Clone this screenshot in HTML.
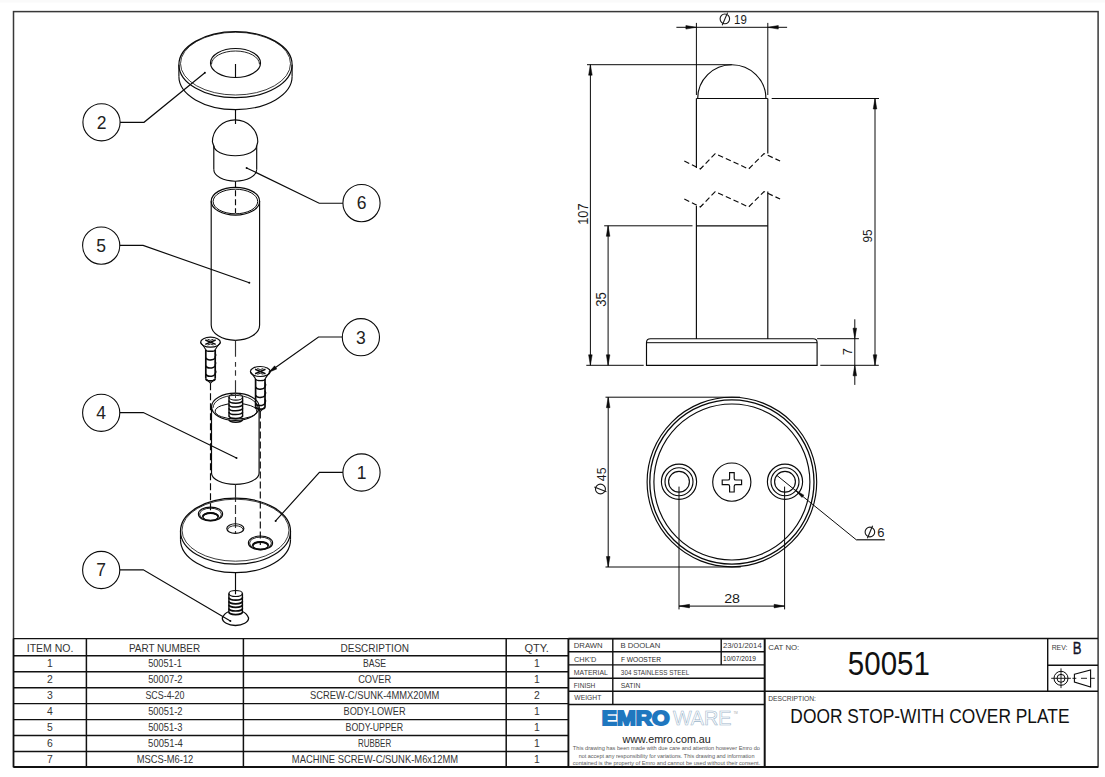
<!DOCTYPE html>
<html><head><meta charset="utf-8"><title>Door Stop Drawing</title>
<style>
html,body{margin:0;padding:0;background:#fff;width:1105px;height:777px;overflow:hidden}
svg{display:block}
text{font-family:"Liberation Sans",sans-serif}
</style></head><body>
<svg width="1105" height="777" viewBox="0 0 1105 777">
<rect width="1105" height="777" fill="#fff"/>
<rect x="0" y="0" width="1105" height="2.6" fill="#fafafa"/>
<rect x="13.5" y="11.6" width="1084.6" height="755.3" fill="none" stroke="#383838" stroke-width="1.5"/>
<ellipse cx="235.5" cy="64.7" rx="56.6" ry="33.0" stroke="#0a0a0a" stroke-width="1.2" fill="none"/>
<ellipse cx="235.5" cy="63.6" rx="55.0" ry="31.4" stroke="#0a0a0a" stroke-width="0.8" fill="none"/>
<line x1="178.9" y1="64.7" x2="178.9" y2="76.6" stroke="#0a0a0a" stroke-width="1.15" />
<line x1="292.1" y1="64.7" x2="292.1" y2="76.6" stroke="#0a0a0a" stroke-width="1.15" />
<path d="M178.9,76.6 A56.6,33.0 0 0 0 292.1,76.6" stroke="#0a0a0a" stroke-width="1.15" fill="none" />
<ellipse cx="235.5" cy="63.0" rx="25.0" ry="14.5" stroke="#0a0a0a" stroke-width="1.2" fill="none"/>
<path d="M211.5,64.3 A24.0,13.3 0 0 1 259.5,64.3" stroke="#0a0a0a" stroke-width="0.9" fill="none" />
<line x1="235.5" y1="64" x2="235.5" y2="77.5" stroke="#0a0a0a" stroke-width="1.15" />
<line x1="235.5" y1="109.6" x2="235.5" y2="124" stroke="#0a0a0a" stroke-width="1.15" />
<path d="M212.4,142 A22.7,22.2 0 0 1 257.8,142" stroke="#0a0a0a" stroke-width="1.15" fill="none" />
<line x1="212.4" y1="142" x2="213.8" y2="146" stroke="#0a0a0a" stroke-width="1.15" />
<line x1="257.8" y1="142" x2="256.7" y2="146" stroke="#0a0a0a" stroke-width="1.15" />
<path d="M213.8,145.5 A21.45,10.2 0 0 0 256.7,145.5" stroke="#0a0a0a" stroke-width="1.15" fill="none" />
<line x1="213.8" y1="146" x2="213.8" y2="169.6" stroke="#0a0a0a" stroke-width="1.15" />
<line x1="256.7" y1="146" x2="256.7" y2="169.6" stroke="#0a0a0a" stroke-width="1.15" />
<path d="M213.8,169.6 A21.45,11.6 0 0 0 256.7,169.6" stroke="#0a0a0a" stroke-width="1.15" fill="none" />
<line x1="235.5" y1="181.2" x2="235.5" y2="213" stroke="#0a0a0a" stroke-width="1.15" stroke-dasharray="6,3"/>
<ellipse cx="235.4" cy="201.2" rx="24.2" ry="13.9" stroke="#0a0a0a" stroke-width="1.2" fill="none"/>
<ellipse cx="235.4" cy="201.5" rx="22.3" ry="12.3" stroke="#0a0a0a" stroke-width="1.0" fill="none"/>
<line x1="211.2" y1="201.2" x2="211.2" y2="325" stroke="#0a0a0a" stroke-width="1.15" />
<line x1="259.6" y1="201.2" x2="259.6" y2="325" stroke="#0a0a0a" stroke-width="1.15" />
<path d="M211.20000000000002,325 A24.2,15.3 0 0 0 259.6,325" stroke="#0a0a0a" stroke-width="1.15" fill="none" />
<line x1="235.5" y1="340.3" x2="235.5" y2="394" stroke="#333" stroke-width="1.15" stroke-dasharray="16.4,5.3,4.7,3.5,5.5,4.5,14"/>
<ellipse cx="210.5" cy="342.2" rx="9.9" ry="5.0" stroke="#0a0a0a" stroke-width="1.2" fill="none"/>
<path d="M205.3,340.0 L215.7,344.4 M215.7,340.0 L205.3,344.4" stroke="#0a0a0a" stroke-width="1.5" fill="none" />
<path d="M207.5,339.2 Q210.5,341.4 213.5,339.2 M207.5,345.0 Q210.5,343.0 213.5,345.0" stroke="#0a0a0a" stroke-width="0.9" fill="none" />
<path d="M200.6,342.5 Q204.5,347.2 205.8,349.7 M220.4,342.5 Q216.5,347.2 215.2,349.7" stroke="#0a0a0a" stroke-width="1.15" fill="none" />
<line x1="205.8" y1="349.7" x2="205.8" y2="378.7" stroke="#0a0a0a" stroke-width="1.7" />
<line x1="215.2" y1="349.7" x2="215.2" y2="378.7" stroke="#0a0a0a" stroke-width="1.7" />
<path d="M205.8,349.7 A4.7,1.6 0 0 0 215.2,349.7" stroke="#0a0a0a" stroke-width="1.4" fill="none" />
<path d="M205.8,357.7 A4.7,2.8 0 0 0 215.2,356.2" stroke="#0a0a0a" stroke-width="1.5" fill="none" />
<path d="M215.2,353.2 q1.3,2 0,4" stroke="#0a0a0a" stroke-width="1.3" fill="none" />
<path d="M205.8,365.9 A4.7,2.8 0 0 0 215.2,364.4" stroke="#0a0a0a" stroke-width="1.5" fill="none" />
<path d="M215.2,361.4 q1.3,2 0,4" stroke="#0a0a0a" stroke-width="1.3" fill="none" />
<path d="M205.8,374.09999999999997 A4.7,2.8 0 0 0 215.2,372.59999999999997" stroke="#0a0a0a" stroke-width="1.5" fill="none" />
<path d="M215.2,369.59999999999997 q1.3,2 0,4" stroke="#0a0a0a" stroke-width="1.3" fill="none" />
<path d="M205.8,378.7 A4.7,2.2 0 0 0 215.2,378.7" stroke="#0a0a0a" stroke-width="1.6" fill="none" />
<path d="M206.4,379.2 L210.5,383.3 L214.6,379.2" stroke="#0a0a0a" stroke-width="1.15" fill="none" />
<line x1="210.5" y1="383.3" x2="210.5" y2="514" stroke="#0a0a0a" stroke-width="1.15" stroke-dasharray="7,3"/>
<ellipse cx="260.3" cy="371.5" rx="9.9" ry="5.0" stroke="#0a0a0a" stroke-width="1.2" fill="none"/>
<path d="M255.10000000000002,369.3 L265.5,373.7 M265.5,369.3 L255.10000000000002,373.7" stroke="#0a0a0a" stroke-width="1.5" fill="none" />
<path d="M257.3,368.5 Q260.3,370.7 263.3,368.5 M257.3,374.3 Q260.3,372.3 263.3,374.3" stroke="#0a0a0a" stroke-width="0.9" fill="none" />
<path d="M250.4,371.8 Q254.3,376.5 255.60000000000002,379.0 M270.2,371.8 Q266.3,376.5 265.0,379.0" stroke="#0a0a0a" stroke-width="1.15" fill="none" />
<line x1="255.60000000000002" y1="379.0" x2="255.60000000000002" y2="406.9" stroke="#0a0a0a" stroke-width="1.7" />
<line x1="265.0" y1="379.0" x2="265.0" y2="406.9" stroke="#0a0a0a" stroke-width="1.7" />
<path d="M255.60000000000002,379.0 A4.7,1.6 0 0 0 265.0,379.0" stroke="#0a0a0a" stroke-width="1.4" fill="none" />
<path d="M255.60000000000002,387.0 A4.7,2.8 0 0 0 265.0,385.5" stroke="#0a0a0a" stroke-width="1.5" fill="none" />
<path d="M265.0,382.5 q1.3,2 0,4" stroke="#0a0a0a" stroke-width="1.3" fill="none" />
<path d="M255.60000000000002,395.2 A4.7,2.8 0 0 0 265.0,393.7" stroke="#0a0a0a" stroke-width="1.5" fill="none" />
<path d="M265.0,390.7 q1.3,2 0,4" stroke="#0a0a0a" stroke-width="1.3" fill="none" />
<path d="M255.60000000000002,403.4 A4.7,2.8 0 0 0 265.0,401.9" stroke="#0a0a0a" stroke-width="1.5" fill="none" />
<path d="M265.0,398.9 q1.3,2 0,4" stroke="#0a0a0a" stroke-width="1.3" fill="none" />
<path d="M255.60000000000002,406.9 A4.7,2.2 0 0 0 265.0,406.9" stroke="#0a0a0a" stroke-width="1.6" fill="none" />
<path d="M256.20000000000005,407.4 L260.3,411.5 L264.4,407.4" stroke="#0a0a0a" stroke-width="1.15" fill="none" />
<line x1="260.3" y1="411.5" x2="260.3" y2="545" stroke="#0a0a0a" stroke-width="1.15" stroke-dasharray="7,3"/>
<ellipse cx="235.3" cy="406.8" rx="23.8" ry="13.6" stroke="#0a0a0a" stroke-width="1.2" fill="none"/>
<path d="M213.10000000000002,407.8 A22.2,12.4 0 0 1 257.5,407.8" stroke="#0a0a0a" stroke-width="0.9" fill="none" />
<ellipse cx="236.0" cy="411.2" rx="20.8" ry="7.8" stroke="#0a0a0a" stroke-width="1.0" fill="none"/>
<line x1="211.5" y1="406.8" x2="211.5" y2="473" stroke="#0a0a0a" stroke-width="1.2" />
<line x1="259.1" y1="406.8" x2="259.1" y2="473" stroke="#0a0a0a" stroke-width="1.2" />
<path d="M211.5,473 A23.8,11.3 0 0 0 259.1,473" stroke="#0a0a0a" stroke-width="1.15" fill="none" />
<rect x="229" y="397" width="13.6" height="21" fill="#fff"/>
<ellipse cx="235.8" cy="396.9" rx="6.8" ry="3.2" stroke="#0a0a0a" stroke-width="1.1" fill="none"/>
<line x1="229" y1="396.9" x2="229" y2="416.5" stroke="#0a0a0a" stroke-width="1.4" />
<line x1="242.6" y1="396.9" x2="242.6" y2="416.5" stroke="#0a0a0a" stroke-width="1.4" />
<path d="M229.0,400.6 A6.8,2.6 0 0 0 242.60000000000002,400.6" stroke="#0a0a0a" stroke-width="1.5" fill="none" />
<path d="M229.0,404.40000000000003 A6.8,2.6 0 0 0 242.60000000000002,404.40000000000003" stroke="#0a0a0a" stroke-width="1.5" fill="none" />
<path d="M229.0,408.20000000000005 A6.8,2.6 0 0 0 242.60000000000002,408.20000000000005" stroke="#0a0a0a" stroke-width="1.5" fill="none" />
<path d="M229.0,412.0 A6.8,2.6 0 0 0 242.60000000000002,412.0" stroke="#0a0a0a" stroke-width="1.5" fill="none" />
<path d="M229.0,415.8 A6.8,2.6 0 0 0 242.60000000000002,415.8" stroke="#0a0a0a" stroke-width="1.5" fill="none" />
<path d="M229.0,419.6 A6.8,2.6 0 0 0 242.60000000000002,419.6" stroke="#0a0a0a" stroke-width="1.5" fill="none" />
<line x1="235.5" y1="390" x2="235.5" y2="398" stroke="#333" stroke-width="1.0" />
<line x1="235.5" y1="484.3" x2="235.5" y2="497.5" stroke="#333" stroke-width="1.15" />
<line x1="235.5" y1="497.5" x2="235.5" y2="533" stroke="#333" stroke-width="1.15" stroke-dasharray="4.5,3,9,3,11,3"/>
<ellipse cx="235.5" cy="531.2" rx="55.0" ry="33.0" stroke="#0a0a0a" stroke-width="1.2" fill="none"/>
<ellipse cx="235.5" cy="530.2" rx="53.5" ry="31.0" stroke="#0a0a0a" stroke-width="0.8" fill="none"/>
<line x1="180.5" y1="531.2" x2="180.5" y2="539.7" stroke="#0a0a0a" stroke-width="1.15" />
<line x1="290.5" y1="531.2" x2="290.5" y2="539.7" stroke="#0a0a0a" stroke-width="1.15" />
<path d="M180.5,539.7 A55.0,33.0 0 0 0 290.5,539.7" stroke="#0a0a0a" stroke-width="1.2" fill="none" />
<ellipse cx="210.5" cy="514.0" rx="12.1" ry="6.9" stroke="#0a0a0a" stroke-width="1.15" fill="none"/>
<ellipse cx="210.5" cy="514.2" rx="10.9" ry="6.0" stroke="#0a0a0a" stroke-width="0.9" fill="none"/>
<ellipse cx="210.5" cy="516.8" rx="7.7" ry="3.8" stroke="#0a0a0a" stroke-width="1.3" fill="none"/>
<path d="M202.8,516.8 A7.7,3.8 0 0 1 218.2,516.8" stroke="#0a0a0a" stroke-width="2.0" fill="none" />
<ellipse cx="260.5" cy="542.9" rx="12.1" ry="6.9" stroke="#0a0a0a" stroke-width="1.15" fill="none"/>
<ellipse cx="260.5" cy="543.1" rx="10.9" ry="6.0" stroke="#0a0a0a" stroke-width="0.9" fill="none"/>
<ellipse cx="260.5" cy="545.6999999999999" rx="7.7" ry="3.8" stroke="#0a0a0a" stroke-width="1.3" fill="none"/>
<path d="M252.8,545.6999999999999 A7.7,3.8 0 0 1 268.2,545.6999999999999" stroke="#0a0a0a" stroke-width="2.0" fill="none" />
<ellipse cx="235.35" cy="528.6" rx="8.55" ry="4.85" stroke="#0a0a0a" stroke-width="1.2" fill="none"/>
<path d="M227.75,529.6 A7.6,3.9 0 0 1 242.95,529.6" stroke="#0a0a0a" stroke-width="0.9" fill="none" />
<line x1="235.5" y1="572" x2="235.5" y2="594.3" stroke="#0a0a0a" stroke-width="1.15" />
<line x1="228.9" y1="593.5" x2="228.9" y2="612" stroke="#0a0a0a" stroke-width="1.4" />
<line x1="242.4" y1="593.5" x2="242.4" y2="612" stroke="#0a0a0a" stroke-width="1.4" />
<ellipse cx="235.65" cy="593.5" rx="6.75" ry="3.0" stroke="#0a0a0a" stroke-width="1.2" fill="none"/>
<path d="M228.9,597.6 A6.75,2.6 0 0 0 242.4,597.6" stroke="#0a0a0a" stroke-width="1.7" fill="none" />
<path d="M228.9,601.2 A6.75,2.6 0 0 0 242.4,601.2" stroke="#0a0a0a" stroke-width="1.7" fill="none" />
<path d="M228.9,604.8000000000001 A6.75,2.6 0 0 0 242.4,604.8000000000001" stroke="#0a0a0a" stroke-width="1.7" fill="none" />
<path d="M228.9,608.4 A6.75,2.6 0 0 0 242.4,608.4" stroke="#0a0a0a" stroke-width="1.7" fill="none" />
<path d="M228.9,612.0 A6.75,2.6 0 0 0 242.4,612.0" stroke="#0a0a0a" stroke-width="1.7" fill="none" />
<path d="M228.9,611.5 Q224,613.5 222.3,618 A13.15,7.5 0 0 0 248.6,618 Q247,613.5 242.4,611.5" stroke="#0a0a0a" stroke-width="1.3" fill="none" />
<circle cx="101.5" cy="122.3" r="18.6" stroke="#0a0a0a" stroke-width="1.1" fill="none"/>
<text x="101.5" y="128.6" font-family="Liberation Sans" font-size="17.5" text-anchor="middle" fill="#222" >2</text>
<path d="M120.1,122.3 L144,122.3 L204.9,72.7" stroke="#0a0a0a" stroke-width="1.15" fill="none" />
<circle cx="204.9" cy="72.7" r="1.0" stroke="#0a0a0a" stroke-width="0" fill="#0a0a0a"/>
<circle cx="361.5" cy="203.1" r="18.6" stroke="#0a0a0a" stroke-width="1.1" fill="none"/>
<text x="361.5" y="209.4" font-family="Liberation Sans" font-size="17.5" text-anchor="middle" fill="#222" >6</text>
<path d="M342.9,203.2 L319.2,203.2 L246.6,167.9" stroke="#0a0a0a" stroke-width="1.15" fill="none" />
<circle cx="246.6" cy="167.9" r="1.0" stroke="#0a0a0a" stroke-width="0" fill="#0a0a0a"/>
<circle cx="101.2" cy="245.6" r="18.6" stroke="#0a0a0a" stroke-width="1.1" fill="none"/>
<text x="101.2" y="251.9" font-family="Liberation Sans" font-size="17.5" text-anchor="middle" fill="#222" >5</text>
<path d="M119.8,245.4 L143.1,245.4 L249.3,282.8" stroke="#0a0a0a" stroke-width="1.15" fill="none" />
<circle cx="249.3" cy="282.8" r="1.0" stroke="#0a0a0a" stroke-width="0" fill="#0a0a0a"/>
<circle cx="360.9" cy="337.2" r="18.6" stroke="#0a0a0a" stroke-width="1.1" fill="none"/>
<text x="360.9" y="343.5" font-family="Liberation Sans" font-size="17.5" text-anchor="middle" fill="#222" >3</text>
<path d="M342.3,337.0 L318.5,337.0 L268.8,372.3" stroke="#0a0a0a" stroke-width="1.15" fill="none" />
<path d="M268.80,372.30 L274.63,365.83 L276.83,368.93 Z" fill="#0a0a0a" stroke="#0a0a0a" stroke-width="0.5"/>
<circle cx="101.2" cy="412.8" r="18.6" stroke="#0a0a0a" stroke-width="1.1" fill="none"/>
<text x="101.2" y="419.1" font-family="Liberation Sans" font-size="17.5" text-anchor="middle" fill="#222" >4</text>
<path d="M119.8,412.6 L143.3,412.6 L236.5,457.9" stroke="#0a0a0a" stroke-width="1.15" fill="none" />
<circle cx="236.5" cy="457.9" r="1.0" stroke="#0a0a0a" stroke-width="0" fill="#0a0a0a"/>
<circle cx="361.5" cy="472.5" r="18.6" stroke="#0a0a0a" stroke-width="1.1" fill="none"/>
<text x="361.5" y="478.8" font-family="Liberation Sans" font-size="17.5" text-anchor="middle" fill="#222" >1</text>
<path d="M342.9,472.4 L319.4,472.4 L275.6,520.9" stroke="#0a0a0a" stroke-width="1.15" fill="none" />
<circle cx="275.6" cy="520.9" r="1.0" stroke="#0a0a0a" stroke-width="0" fill="#0a0a0a"/>
<circle cx="101.2" cy="570.0" r="18.6" stroke="#0a0a0a" stroke-width="1.1" fill="none"/>
<text x="101.2" y="576.3" font-family="Liberation Sans" font-size="17.5" text-anchor="middle" fill="#222" >7</text>
<path d="M119.8,569.8 L143.3,569.8 L230.4,621.0" stroke="#0a0a0a" stroke-width="1.15" fill="none" />
<circle cx="230.4" cy="621.0" r="1.0" stroke="#0a0a0a" stroke-width="0" fill="#0a0a0a"/>
<path d="M697.7,98.5 A34.1,33.8 0 0 1 765.9,98.5" stroke="#0a0a0a" stroke-width="1.15" fill="none" />
<line x1="696.4" y1="98.5" x2="767.8" y2="98.5" stroke="#0a0a0a" stroke-width="1.1" />
<line x1="696.4" y1="98.5" x2="696.4" y2="168" stroke="#0a0a0a" stroke-width="1.15" />
<line x1="767.8" y1="98.5" x2="767.8" y2="153.6" stroke="#0a0a0a" stroke-width="1.15" />
<path d="M684.3,161 L700.4,169 L715.2,153.6 L748.6,169 L764,153.6 L780.1,161" stroke="#0a0a0a" stroke-width="1.15" fill="none" stroke-dasharray="5.5,3"/>
<path d="M684.3,199 L700.4,207 L715.2,191.6 L748.6,207 L764,191.6 L780.1,199" stroke="#0a0a0a" stroke-width="1.15" fill="none" stroke-dasharray="5.5,3"/>
<line x1="696.4" y1="206" x2="696.4" y2="339" stroke="#0a0a0a" stroke-width="1.15" />
<line x1="767.8" y1="191.6" x2="767.8" y2="339" stroke="#0a0a0a" stroke-width="1.15" />
<line x1="696.4" y1="225.8" x2="767.8" y2="225.8" stroke="#0a0a0a" stroke-width="1.15" />
<path d="M646.5,365.3 L646.5,342.6 Q646.5,338.7 650.5,338.7 L813.1,338.7 Q817.1,338.7 817.1,342.6 L817.1,365.3 Z" stroke="#0a0a0a" stroke-width="1.15" fill="none" />
<line x1="646.5" y1="342.7" x2="817.1" y2="342.7" stroke="#0a0a0a" stroke-width="1.0" />
<line x1="696.4" y1="22.9" x2="696.4" y2="95" stroke="#0a0a0a" stroke-width="1.0" />
<line x1="767.8" y1="22.9" x2="767.8" y2="95" stroke="#0a0a0a" stroke-width="1.0" />
<line x1="676.4" y1="27.3" x2="787.1" y2="27.3" stroke="#0a0a0a" stroke-width="1.0" />
<path d="M696.40,27.30 L685.90,29.10 L685.90,25.50 Z" fill="#0a0a0a" stroke="#0a0a0a" stroke-width="0.5"/>
<path d="M767.80,27.30 L778.30,25.50 L778.30,29.10 Z" fill="#0a0a0a" stroke="#0a0a0a" stroke-width="0.5"/>
<ellipse cx="724.85" cy="18.85" rx="4.75" ry="4.85" stroke="#1a1a1a" stroke-width="1.1" fill="none"/>
<line x1="722.2" y1="25.2" x2="727.6" y2="12.6" stroke="#1a1a1a" stroke-width="1.1" />
<text x="734.04" y="23.80" font-family="Liberation Sans" font-weight="normal" font-size="13.62" fill="#1a1a1a" textLength="12.70" lengthAdjust="spacingAndGlyphs" >19</text>
<line x1="587" y1="64.7" x2="731.8" y2="64.7" stroke="#0a0a0a" stroke-width="1.0" />
<line x1="590.4" y1="64.7" x2="590.4" y2="365.3" stroke="#0a0a0a" stroke-width="1.0" />
<path d="M590.40,64.70 L592.20,75.20 L588.60,75.20 Z" fill="#0a0a0a" stroke="#0a0a0a" stroke-width="0.5"/>
<path d="M590.40,365.30 L588.60,354.80 L592.20,354.80 Z" fill="#0a0a0a" stroke="#0a0a0a" stroke-width="0.5"/>
<line x1="586.3" y1="365.3" x2="643.7" y2="365.3" stroke="#0a0a0a" stroke-width="1.0" />
<text x="-0.96" y="0" transform="translate(588.00,223.80) rotate(-90)" font-family="Liberation Sans" font-weight="normal" font-size="14.05" fill="#1a1a1a" textLength="21.31" lengthAdjust="spacingAndGlyphs">107</text>
<line x1="604.2" y1="225.8" x2="692.5" y2="225.8" stroke="#0a0a0a" stroke-width="1.0" />
<line x1="608.1" y1="225.8" x2="608.1" y2="365.3" stroke="#0a0a0a" stroke-width="1.0" />
<path d="M608.10,225.80 L609.90,236.30 L606.30,236.30 Z" fill="#0a0a0a" stroke="#0a0a0a" stroke-width="0.5"/>
<path d="M608.10,365.30 L606.30,354.80 L609.90,354.80 Z" fill="#0a0a0a" stroke="#0a0a0a" stroke-width="0.5"/>
<text x="-0.49" y="0" transform="translate(605.70,306.30) rotate(-90)" font-family="Liberation Sans" font-weight="normal" font-size="14.05" fill="#1a1a1a" textLength="14.44" lengthAdjust="spacingAndGlyphs">35</text>
<line x1="771.7" y1="98.5" x2="879" y2="98.5" stroke="#0a0a0a" stroke-width="1.0" />
<line x1="875.0" y1="98.5" x2="875.0" y2="365.3" stroke="#0a0a0a" stroke-width="1.0" />
<path d="M875.00,98.50 L876.80,109.00 L873.20,109.00 Z" fill="#0a0a0a" stroke="#0a0a0a" stroke-width="0.5"/>
<path d="M875.00,365.30 L873.20,354.80 L876.80,354.80 Z" fill="#0a0a0a" stroke="#0a0a0a" stroke-width="0.5"/>
<line x1="820.3" y1="365.3" x2="878.8" y2="365.3" stroke="#0a0a0a" stroke-width="1.0" />
<text x="-0.56" y="0" transform="translate(871.90,242.00) rotate(-90)" font-family="Liberation Sans" font-weight="normal" font-size="13.62" fill="#1a1a1a" textLength="13.05" lengthAdjust="spacingAndGlyphs">95</text>
<line x1="817.1" y1="338.7" x2="858.9" y2="338.7" stroke="#0a0a0a" stroke-width="1.0" />
<line x1="854.8" y1="319.3" x2="854.8" y2="384.9" stroke="#0a0a0a" stroke-width="1.0" />
<path d="M854.80,338.70 L853.00,328.20 L856.60,328.20 Z" fill="#0a0a0a" stroke="#0a0a0a" stroke-width="0.5"/>
<path d="M854.80,365.30 L856.60,375.80 L853.00,375.80 Z" fill="#0a0a0a" stroke="#0a0a0a" stroke-width="0.5"/>
<text x="-0.64" y="0" transform="translate(851.60,354.70) rotate(-90)" font-family="Liberation Sans" font-weight="normal" font-size="13.24" fill="#1a1a1a" textLength="7.09" lengthAdjust="spacingAndGlyphs">7</text>
<circle cx="731.9" cy="482.0" r="84.8" stroke="#0a0a0a" stroke-width="1.15" fill="none"/>
<circle cx="731.9" cy="482.0" r="82.1" stroke="#0a0a0a" stroke-width="1.3" fill="none"/>
<circle cx="731.9" cy="482.0" r="78.0" stroke="#0a0a0a" stroke-width="1.15" fill="none"/>
<circle cx="679.0" cy="481.7" r="17.6" stroke="#0a0a0a" stroke-width="1.15" fill="none"/>
<circle cx="679.0" cy="481.7" r="14.0" stroke="#0a0a0a" stroke-width="1.15" fill="none"/>
<circle cx="679.0" cy="481.7" r="10.4" stroke="#0a0a0a" stroke-width="1.15" fill="none"/>
<circle cx="785.0" cy="481.7" r="17.6" stroke="#0a0a0a" stroke-width="1.15" fill="none"/>
<circle cx="785.0" cy="481.7" r="14.0" stroke="#0a0a0a" stroke-width="1.15" fill="none"/>
<circle cx="785.0" cy="481.7" r="10.4" stroke="#0a0a0a" stroke-width="1.15" fill="none"/>
<circle cx="731.8" cy="482.1" r="19.1" stroke="#0a0a0a" stroke-width="1.15" fill="none"/>
<path d="M729.6,472.6 L734.1999999999999,472.6 L734.1999999999999,478.4 Q734.1999999999999,480.0 735.8,480.0 L741.6,480.0 L741.6,484.6 L735.8,484.6 Q734.1999999999999,484.6 734.1999999999999,486.20000000000005 L734.1999999999999,492.0 L729.6,492.0 L729.6,486.20000000000005 Q729.6,484.6 728.0,484.6 L722.1999999999999,484.6 L722.1999999999999,480.0 L728.0,480.0 Q729.6,480.0 729.6,478.4 Z" stroke="#0a0a0a" stroke-width="1.15" fill="none" />
<line x1="605.5" y1="397.2" x2="740" y2="397.2" stroke="#0a0a0a" stroke-width="1.0" />
<line x1="605.5" y1="567.0" x2="740.7" y2="567.0" stroke="#0a0a0a" stroke-width="1.0" />
<line x1="608.2" y1="397.2" x2="608.2" y2="567.0" stroke="#0a0a0a" stroke-width="1.0" />
<path d="M608.20,397.20 L610.00,407.70 L606.40,407.70 Z" fill="#0a0a0a" stroke="#0a0a0a" stroke-width="0.5"/>
<path d="M608.20,567.00 L606.40,556.50 L610.00,556.50 Z" fill="#0a0a0a" stroke="#0a0a0a" stroke-width="0.5"/>
<ellipse cx="600.45" cy="489.0" rx="5.0" ry="4.9" stroke="#1a1a1a" stroke-width="1.1" fill="none"/>
<line x1="594.3" y1="487.1" x2="606.4" y2="491.8" stroke="#1a1a1a" stroke-width="1.1" />
<text x="-0.28" y="0" transform="translate(605.50,480.90) rotate(-90)" font-family="Liberation Sans" font-weight="normal" font-size="13.24" fill="#1a1a1a" textLength="13.70" lengthAdjust="spacingAndGlyphs">45</text>
<line x1="679" y1="486.6" x2="679" y2="609.4" stroke="#0a0a0a" stroke-width="1.0" />
<line x1="784.6" y1="486.6" x2="784.6" y2="609.4" stroke="#0a0a0a" stroke-width="1.0" />
<line x1="679" y1="606.1" x2="784.6" y2="606.1" stroke="#0a0a0a" stroke-width="1.0" />
<path d="M679.00,606.10 L689.50,604.30 L689.50,607.90 Z" fill="#0a0a0a" stroke="#0a0a0a" stroke-width="0.5"/>
<path d="M784.60,606.10 L774.10,607.90 L774.10,604.30 Z" fill="#0a0a0a" stroke="#0a0a0a" stroke-width="0.5"/>
<text x="724.19" y="602.80" font-family="Liberation Sans" font-weight="normal" font-size="13.62" fill="#1a1a1a" textLength="15.85" lengthAdjust="spacingAndGlyphs" >28</text>
<line x1="776.9" y1="475.4" x2="856.3" y2="539.8" stroke="#0a0a0a" stroke-width="1.0" />
<path d="M794.80,489.70 L803.90,495.15 L802.01,497.48 Z" fill="#0a0a0a" stroke="#0a0a0a" stroke-width="0.5"/>
<line x1="856.3" y1="539.8" x2="884.8" y2="539.8" stroke="#0a0a0a" stroke-width="1.15" />
<ellipse cx="869.9" cy="532.0" rx="4.8" ry="4.9" stroke="#1a1a1a" stroke-width="1.1" fill="none"/>
<line x1="867.4" y1="538.2" x2="872.6" y2="525.7" stroke="#1a1a1a" stroke-width="1.1" />
<text x="877.35" y="536.90" font-family="Liberation Sans" font-weight="normal" font-size="13.33" fill="#1a1a1a" textLength="7.22" lengthAdjust="spacingAndGlyphs" >6</text>
<line x1="13.5" y1="638.6" x2="568.4" y2="638.6" stroke="#111" stroke-width="1.4" />
<line x1="13.5" y1="655.8" x2="568.4" y2="655.8" stroke="#111" stroke-width="1.4" />
<line x1="13.5" y1="671.75" x2="568.4" y2="671.75" stroke="#111" stroke-width="1.4" />
<line x1="13.5" y1="687.6999999999999" x2="568.4" y2="687.6999999999999" stroke="#111" stroke-width="1.4" />
<line x1="13.5" y1="703.65" x2="568.4" y2="703.65" stroke="#111" stroke-width="1.4" />
<line x1="13.5" y1="719.5999999999999" x2="568.4" y2="719.5999999999999" stroke="#111" stroke-width="1.4" />
<line x1="13.5" y1="735.55" x2="568.4" y2="735.55" stroke="#111" stroke-width="1.4" />
<line x1="13.5" y1="751.5" x2="568.4" y2="751.5" stroke="#111" stroke-width="1.4" />
<line x1="13.5" y1="638.6" x2="13.5" y2="767" stroke="#111" stroke-width="1.5" />
<line x1="86.4" y1="638.6" x2="86.4" y2="767" stroke="#111" stroke-width="1.5" />
<line x1="243.4" y1="638.6" x2="243.4" y2="767" stroke="#111" stroke-width="1.5" />
<line x1="506.2" y1="638.6" x2="506.2" y2="767" stroke="#111" stroke-width="1.5" />
<text x="26.73" y="651.60" font-family="Liberation Sans" font-weight="normal" font-size="10.61" fill="#333" textLength="46.71" lengthAdjust="spacingAndGlyphs" >ITEM NO.</text>
<text x="128.88" y="651.60" font-family="Liberation Sans" font-weight="normal" font-size="10.76" fill="#333" textLength="71.30" lengthAdjust="spacingAndGlyphs" >PART NUMBER</text>
<text x="340.47" y="651.60" font-family="Liberation Sans" font-weight="normal" font-size="10.61" fill="#333" textLength="68.44" lengthAdjust="spacingAndGlyphs" >DESCRIPTION</text>
<text x="524.47" y="651.60" font-family="Liberation Sans" font-weight="normal" font-size="10.61" fill="#333" textLength="24.42" lengthAdjust="spacingAndGlyphs" >QTY.</text>
<text x="50.0" y="667.1999999999999" font-family="Liberation Sans" font-size="10.4" text-anchor="middle" fill="#333" >1</text>
<text x="148.13" y="667.20" font-family="Liberation Sans" font-weight="normal" font-size="10.75" fill="#333" textLength="33.70" lengthAdjust="spacingAndGlyphs" >50051-1</text>
<text x="362.99" y="667.20" font-family="Liberation Sans" font-weight="normal" font-size="10.75" fill="#333" textLength="23.09" lengthAdjust="spacingAndGlyphs" >BASE</text>
<text x="536.8" y="667.1999999999999" font-family="Liberation Sans" font-size="10.4" text-anchor="middle" fill="#333" >1</text>
<text x="50.0" y="683.15" font-family="Liberation Sans" font-size="10.4" text-anchor="middle" fill="#333" >2</text>
<text x="148.13" y="683.15" font-family="Liberation Sans" font-weight="normal" font-size="10.75" fill="#333" textLength="34.34" lengthAdjust="spacingAndGlyphs" >50007-2</text>
<text x="358.13" y="683.15" font-family="Liberation Sans" font-weight="normal" font-size="10.75" fill="#333" textLength="33.10" lengthAdjust="spacingAndGlyphs" >COVER</text>
<text x="536.8" y="683.15" font-family="Liberation Sans" font-size="10.4" text-anchor="middle" fill="#333" >1</text>
<text x="50.0" y="699.0999999999999" font-family="Liberation Sans" font-size="10.4" text-anchor="middle" fill="#333" >3</text>
<text x="145.40" y="699.10" font-family="Liberation Sans" font-weight="normal" font-size="10.75" fill="#333" textLength="39.04" lengthAdjust="spacingAndGlyphs" >SCS-4-20</text>
<text x="310.08" y="699.10" font-family="Liberation Sans" font-weight="normal" font-size="10.34" fill="#333" textLength="129.20" lengthAdjust="spacingAndGlyphs" >SCREW-C/SUNK-4MMX20MM</text>
<text x="536.8" y="699.0999999999999" font-family="Liberation Sans" font-size="10.4" text-anchor="middle" fill="#333" >2</text>
<text x="50.0" y="715.05" font-family="Liberation Sans" font-size="10.4" text-anchor="middle" fill="#333" >4</text>
<text x="148.13" y="715.05" font-family="Liberation Sans" font-weight="normal" font-size="10.75" fill="#333" textLength="34.34" lengthAdjust="spacingAndGlyphs" >50051-2</text>
<text x="343.54" y="715.05" font-family="Liberation Sans" font-weight="normal" font-size="10.75" fill="#333" textLength="61.99" lengthAdjust="spacingAndGlyphs" >BODY-LOWER</text>
<text x="536.8" y="715.05" font-family="Liberation Sans" font-size="10.4" text-anchor="middle" fill="#333" >1</text>
<text x="50.0" y="730.9999999999999" font-family="Liberation Sans" font-size="10.4" text-anchor="middle" fill="#333" >5</text>
<text x="148.13" y="731.00" font-family="Liberation Sans" font-weight="normal" font-size="10.75" fill="#333" textLength="34.27" lengthAdjust="spacingAndGlyphs" >50051-3</text>
<text x="345.57" y="731.00" font-family="Liberation Sans" font-weight="normal" font-size="10.75" fill="#333" textLength="57.55" lengthAdjust="spacingAndGlyphs" >BODY-UPPER</text>
<text x="536.8" y="730.9999999999999" font-family="Liberation Sans" font-size="10.4" text-anchor="middle" fill="#333" >1</text>
<text x="50.0" y="746.9499999999999" font-family="Liberation Sans" font-size="10.4" text-anchor="middle" fill="#333" >6</text>
<text x="148.12" y="746.95" font-family="Liberation Sans" font-weight="normal" font-size="10.75" fill="#333" textLength="34.74" lengthAdjust="spacingAndGlyphs" >50051-4</text>
<text x="357.94" y="746.95" font-family="Liberation Sans" font-weight="normal" font-size="10.91" fill="#333" textLength="33.24" lengthAdjust="spacingAndGlyphs" >RUBBER</text>
<text x="536.8" y="746.9499999999999" font-family="Liberation Sans" font-size="10.4" text-anchor="middle" fill="#333" >1</text>
<text x="50.0" y="762.9" font-family="Liberation Sans" font-size="10.4" text-anchor="middle" fill="#333" >7</text>
<text x="136.63" y="762.90" font-family="Liberation Sans" font-weight="normal" font-size="10.75" fill="#333" textLength="56.66" lengthAdjust="spacingAndGlyphs" >MSCS-M6-12</text>
<text x="291.82" y="762.90" font-family="Liberation Sans" font-weight="normal" font-size="10.34" fill="#333" textLength="166.35" lengthAdjust="spacingAndGlyphs" >MACHINE SCREW-C/SUNK-M6x12MM</text>
<text x="536.8" y="762.9" font-family="Liberation Sans" font-size="10.4" text-anchor="middle" fill="#333" >1</text>
<line x1="568.4" y1="638.6" x2="568.4" y2="767" stroke="#111" stroke-width="1.9" />
<line x1="568.4" y1="638.7" x2="764.2" y2="638.7" stroke="#111" stroke-width="1.4" />
<line x1="568.4" y1="651.8" x2="764.2" y2="651.8" stroke="#111" stroke-width="1.4" />
<line x1="568.4" y1="664.9" x2="764.2" y2="664.9" stroke="#111" stroke-width="1.4" />
<line x1="568.4" y1="678.3" x2="764.2" y2="678.3" stroke="#111" stroke-width="1.4" />
<line x1="568.4" y1="691.2" x2="764.2" y2="691.2" stroke="#111" stroke-width="1.4" />
<line x1="568.4" y1="704.5" x2="764.2" y2="704.5" stroke="#111" stroke-width="1.4" />
<line x1="612.8" y1="638.7" x2="612.8" y2="704.5" stroke="#111" stroke-width="1.4" />
<line x1="721.2" y1="638.7" x2="721.2" y2="664.9" stroke="#111" stroke-width="1.4" />
<line x1="764.7" y1="638.6" x2="764.7" y2="767" stroke="#111" stroke-width="2.0" />
<line x1="13.5" y1="767" x2="1098" y2="767" stroke="#111" stroke-width="1.8" />
<line x1="568.4" y1="638.6" x2="1098" y2="638.6" stroke="#111" stroke-width="1.5" />
<line x1="764.2" y1="691.3" x2="1098" y2="691.3" stroke="#111" stroke-width="1.5" />
<line x1="1047.7" y1="638.6" x2="1047.7" y2="691.3" stroke="#111" stroke-width="1.4" />
<line x1="1047.7" y1="665.3" x2="1098" y2="665.3" stroke="#111" stroke-width="1.4" />
<text x="573.76" y="647.80" font-family="Liberation Sans" font-weight="normal" font-size="7.42" fill="#3a3a3a" textLength="28.88" lengthAdjust="spacingAndGlyphs" >DRAWN</text>
<text x="574.03" y="661.70" font-family="Liberation Sans" font-weight="normal" font-size="7.31" fill="#3a3a3a" textLength="22.32" lengthAdjust="spacingAndGlyphs" >CHK'D</text>
<text x="573.83" y="674.70" font-family="Liberation Sans" font-weight="normal" font-size="7.42" fill="#3a3a3a" textLength="34.01" lengthAdjust="spacingAndGlyphs" >MATERIAL</text>
<text x="573.86" y="687.60" font-family="Liberation Sans" font-weight="normal" font-size="7.31" fill="#3a3a3a" textLength="21.48" lengthAdjust="spacingAndGlyphs" >FINISH</text>
<text x="574.37" y="700.40" font-family="Liberation Sans" font-weight="normal" font-size="7.31" fill="#3a3a3a" textLength="26.88" lengthAdjust="spacingAndGlyphs" >WEIGHT</text>
<text x="620.46" y="647.80" font-family="Liberation Sans" font-weight="normal" font-size="7.31" fill="#3a3a3a" textLength="39.88" lengthAdjust="spacingAndGlyphs" >B DOOLAN</text>
<text x="620.90" y="661.70" font-family="Liberation Serif" font-weight="normal" font-size="7.40" fill="#222" textLength="40.11" lengthAdjust="spacingAndGlyphs" >F WOOSTER</text>
<text x="620.86" y="674.70" font-family="Liberation Sans" font-weight="normal" font-size="7.31" fill="#3a3a3a" textLength="68.44" lengthAdjust="spacingAndGlyphs" >304 STAINLESS STEEL</text>
<text x="620.79" y="687.60" font-family="Liberation Sans" font-weight="normal" font-size="7.31" fill="#3a3a3a" textLength="19.57" lengthAdjust="spacingAndGlyphs" >SATIN</text>
<text x="723.01" y="647.60" font-family="Liberation Sans" font-weight="normal" font-size="6.76" fill="#3a3a3a" textLength="38.70" lengthAdjust="spacingAndGlyphs" >23/01/2014</text>
<text x="722.97" y="660.60" font-family="Liberation Serif" font-weight="normal" font-size="6.47" fill="#222" textLength="32.93" lengthAdjust="spacingAndGlyphs" >10/07/2019</text>
<text x="768.31" y="649.80" font-family="Liberation Sans" font-weight="normal" font-size="6.74" fill="#3a3a3a" textLength="31.00" lengthAdjust="spacingAndGlyphs" >CAT NO:</text>
<text x="768.14" y="701.00" font-family="Liberation Sans" font-weight="normal" font-size="7.46" fill="#3a3a3a" textLength="47.86" lengthAdjust="spacingAndGlyphs" >DESCRIPTION:</text>
<text x="1051.63" y="649.90" font-family="Liberation Sans" font-weight="normal" font-size="7.56" fill="#3a3a3a" textLength="15.78" lengthAdjust="spacingAndGlyphs" >REV:</text>
<text x="1072.84" y="653.80" font-family="Liberation Serif" font-weight="normal" font-size="15.73" fill="#141428" textLength="8.70" lengthAdjust="spacingAndGlyphs" stroke="#141428" stroke-width="0.35">B</text>
<text x="847.82" y="675.10" font-family="Liberation Sans" font-weight="normal" font-size="33.26" fill="#111" textLength="82.11" lengthAdjust="spacingAndGlyphs" >50051</text>
<text x="790.37" y="723.10" font-family="Liberation Sans" font-weight="normal" font-size="20.07" fill="#111" textLength="279.15" lengthAdjust="spacingAndGlyphs" >DOOR STOP-WITH COVER PLATE</text>
<circle cx="1061.0" cy="678.3" r="7.0" stroke="#0a0a0a" stroke-width="1.0" fill="none"/>
<circle cx="1061.0" cy="678.3" r="4.0" stroke="#0a0a0a" stroke-width="1.0" fill="none"/>
<line x1="1051.2" y1="678.3" x2="1070.9" y2="678.3" stroke="#0a0a0a" stroke-width="0.9" />
<line x1="1061.0" y1="668.4" x2="1061.0" y2="688.1" stroke="#0a0a0a" stroke-width="0.9" />
<path d="M1074.4,674.2 L1090.6,670.0 L1090.6,687.0 L1074.4,682.0 Z" stroke="#0a0a0a" stroke-width="1.1" fill="none" />
<line x1="1072.4" y1="678.3" x2="1076.3" y2="678.3" stroke="#0a0a0a" stroke-width="0.9" />
<line x1="1081" y1="678.3" x2="1087" y2="678.3" stroke="#0a0a0a" stroke-width="0.9" />
<line x1="1090.6" y1="678.3" x2="1094.8" y2="678.3" stroke="#0a0a0a" stroke-width="0.9" />
<text x="601.8" y="725" font-family="Liberation Sans" font-weight="bold" font-size="21" fill="#1f77bf" textLength="67.9" lengthAdjust="spacingAndGlyphs" stroke="#1f77bf" stroke-width="1.9">EMRO</text>
<text x="673" y="725" font-family="Liberation Sans" font-size="21" fill="none" stroke="#9cb6cc" stroke-width="0.6" textLength="58.4" lengthAdjust="spacingAndGlyphs">WARE</text>
<text x="733.5" y="714" font-family="Liberation Sans" font-size="3" text-anchor="start" fill="#aaa" >TM</text>
<text x="622.63" y="742.70" font-family="Liberation Sans" font-weight="normal" font-size="10.60" fill="#1a1a1a" textLength="88.09" lengthAdjust="spacingAndGlyphs" >www.emro.com.au</text>
<text x="572.87" y="750.10" font-family="Liberation Sans" font-weight="normal" font-size="5.52" fill="#5a5a5a" textLength="187.05" lengthAdjust="spacingAndGlyphs" >This drawing has been made with due care and attention  however Emro do</text>
<text x="578.63" y="757.60" font-family="Liberation Sans" font-weight="normal" font-size="5.52" fill="#5a5a5a" textLength="175.82" lengthAdjust="spacingAndGlyphs" >not accept any responsibility for variations. This drawing and information</text>
<text x="572.76" y="764.80" font-family="Liberation Sans" font-weight="normal" font-size="5.52" fill="#5a5a5a" textLength="187.44" lengthAdjust="spacingAndGlyphs" >contained is the property of Emro and cannot be used without their consent.</text>
</svg>
</body></html>
